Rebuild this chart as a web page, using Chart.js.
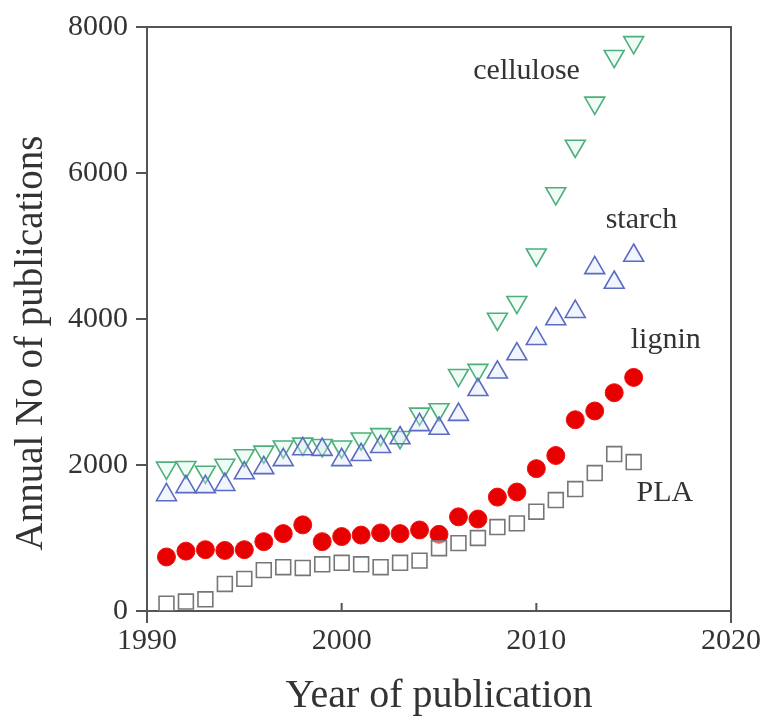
<!DOCTYPE html>
<html>
<head>
<meta charset="utf-8">
<script src="https://cdn.jsdelivr.net/npm/chart.js@4.4.1/dist/chart.umd.min.js"></script>
<style>
  html, body { margin: 0; padding: 0; background: #fff; }
  #wrap { width: 767px; height: 724px; }
</style>
</head>
<body>
<div id="wrap"><canvas id="pubs" width="767" height="724"></canvas></div>
<script>
// publication counts per year
const years = [1991, 1992, 1993, 1994, 1995, 1996, 1997, 1998, 1999, 2000,
               2001, 2002, 2003, 2004, 2005, 2006, 2007, 2008, 2009, 2010,
               2011, 2012, 2013, 2014, 2015];
const cellulose = [1960, 1970, 1905, 2000, 2130, 2180, 2250, 2290, 2270, 2250,
                   2360, 2420, 2380, 2700, 2760, 3230, 3300, 4000, 4230, 4880,
                   5720, 6370, 6960, 7600, 7790];
const starch = [1590, 1700, 1700, 1730, 1890, 1960, 2070, 2220, 2210, 2070,
                2140, 2250, 2370, 2550, 2500, 2690, 3030, 3270, 3520, 3730,
                4000, 4100, 4700, 4500, 4870];
const lignin = [740, 820, 840, 830, 840, 950, 1060, 1180, 950, 1020,
                1040, 1070, 1060, 1110, 1050, 1290, 1260, 1560, 1630, 1950,
                2130, 2620, 2740, 2990, 3200];
const pla = [100, 130, 160, 370, 440, 560, 600, 590, 640, 660,
             640, 600, 660, 690, 860, 930, 1000, 1150, 1200, 1360,
             1520, 1670, 1890, 2150, 2040];

const xTicks = [1990, 2000, 2010, 2020];
const yTicks = [0, 2000, 4000, 6000, 8000];

// series labels placed in data coordinates
const labelNames = ['cellulose', 'starch', 'lignin', 'PLA'];
const labelX = [2009.5, 2015.4, 2016.65, 2016.6];
const labelY = [7390, 5360, 3710, 1620];

const axisColor = '#555';
const textColor = '#333';
const serif = '"Liberation Serif", "Times New Roman", serif';

function pts(ys) {
    return years.map((yr, i) => ({x: yr, y: ys[i]}));
}

const framePlugin = {
    id: 'frame',
    afterDraw(chart) {
        const ctx = chart.ctx;
        const a = chart.chartArea;
        const xs = chart.scales.x;
        const ys = chart.scales.y;
        ctx.save();
        ctx.strokeStyle = axisColor;
        ctx.lineWidth = 2;
        ctx.beginPath();
        // top and right border
        ctx.moveTo(a.left, a.top);
        ctx.lineTo(a.right, a.top);
        ctx.lineTo(a.right, a.bottom);
        // inward ticks on the inner x values
        xTicks.slice(1, -1).forEach(v => {
            const px = xs.getPixelForValue(v);
            ctx.moveTo(px, a.bottom);
            ctx.lineTo(px, a.bottom - 8);
        });
        ctx.stroke();
        // series labels
        ctx.fillStyle = textColor;
        ctx.font = '30px ' + serif;
        ctx.textAlign = 'center';
        ctx.textBaseline = 'middle';
        labelNames.forEach((t, i) => {
            ctx.fillText(t, xs.getPixelForValue(labelX[i]), ys.getPixelForValue(labelY[i]));
        });
        // y axis title, sits a bit below the middle of the axis
        ctx.translate(32, ys.getPixelForValue(3670));
        ctx.rotate(-Math.PI / 2);
        ctx.font = '39px ' + serif;
        ctx.fillText('Annual No of publications', 0, 0);
        ctx.restore();
    }
};

new Chart(document.getElementById('pubs'), {
    type: 'scatter',
    data: {
        datasets: [
            {
                label: 'PLA',
                data: pts(pla),
                pointStyle: 'rect',
                pointRadius: 10.5,
                borderWidth: 1.6,
                borderColor: '#767676',
                backgroundColor: 'rgba(255,255,255,0.4)'
            },
            {
                label: 'lignin',
                data: pts(lignin),
                pointStyle: 'circle',
                pointRadius: 9,
                borderWidth: 1,
                borderColor: '#f01010',
                backgroundColor: '#e80000'
            },
            {
                label: 'starch',
                data: pts(starch),
                pointStyle: 'triangle',
                pointRadius: 11.5,
                borderWidth: 1.6,
                borderColor: '#5b6cc0',
                backgroundColor: 'rgba(215,225,250,0.35)'
            },
            {
                label: 'cellulose',
                data: pts(cellulose),
                pointStyle: 'triangle',
                rotation: 180,
                pointRadius: 11.5,
                borderWidth: 1.6,
                borderColor: '#4eae7c',
                backgroundColor: 'rgba(210,245,225,0.35)'
            }
        ]
    },
    options: {
        responsive: false,
        animation: false,
        layout: { padding: { top: 27, right: 36, left: 0, bottom: 0 } },
        plugins: {
            legend: { display: false },
            tooltip: { enabled: false }
        },
        scales: {
            x: {
                type: 'linear',
                min: 1990,
                max: 2020,
                afterBuildTicks: s => { s.ticks = xTicks.map(v => ({value: v})); },
                afterFit: s => { s.height = 113; },
                border: { display: true, color: axisColor, width: 2 },
                grid: {
                    drawOnChartArea: false,
                    drawTicks: true,
                    tickLength: 12,
                    lineWidth: 2,
                    color: c => (c.tick && (c.tick.value === 1990 || c.tick.value === 2020)) ? axisColor : 'rgba(0,0,0,0)'
                },
                ticks: {
                    padding: 0,
                    maxRotation: 0,
                    color: textColor,
                    font: { family: serif, size: 30 },
                    callback: v => String(v)
                },
                title: {
                    display: true,
                    text: 'Year of publication',
                    color: textColor,
                    font: { family: serif, size: 40, lineHeight: 1 },
                    padding: { top: 0, bottom: 8 }
                }
            },
            y: {
                min: 0,
                max: 8000,
                afterBuildTicks: s => { s.ticks = yTicks.map(v => ({value: v})); },
                afterFit: s => { s.width = 147; },
                border: { display: true, color: axisColor, width: 2 },
                grid: {
                    drawOnChartArea: false,
                    drawTicks: true,
                    tickLength: 11,
                    lineWidth: 2,
                    color: axisColor
                },
                ticks: {
                    padding: 8,
                    color: textColor,
                    font: { family: serif, size: 30 },
                    callback: v => String(v)
                },
                title: { display: false }
            }
        }
    },
    plugins: [framePlugin]
});
</script>
</body>
</html>
